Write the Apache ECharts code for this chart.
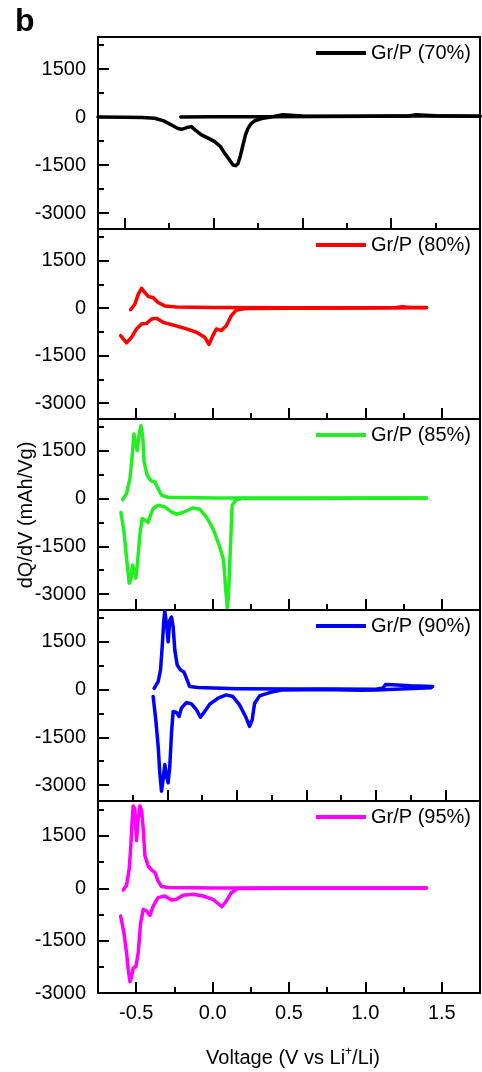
<!DOCTYPE html>
<html>
<head>
<meta charset="utf-8">
<script src="https://cdn.jsdelivr.net/npm/echarts@6/dist/echarts.min.js"></script>
<style>
html,body{margin:0;padding:0;background:#fff}
#chart{width:482px;height:1072px}
</style>
</head>
<body>
<div id="chart"></div>
<script>
//各面板名称和颜色
var names = ['Gr/P (70%)', 'Gr/P (80%)', 'Gr/P (85%)', 'Gr/P (90%)', 'Gr/P (95%)'];
var colors = ['#000000', '#ff0000', '#22ee22', '#0000ff', '#ff00ff'];

//刻度
var yMajor = [-3000, -1500, 0, 1500];
var yMinor = [-2250, -750, 750, 2250];
var xMajor = [-0.5, 0, 0.5, 1.0, 1.5];
var xMinor = [-0.75, -0.25, 0.25, 0.75, 1.25];

//70%
var gp70Lower = [[-0.65,0],[-0.5,-5],[-0.4,-15],[-0.33,-40],[-0.28,-120],[-0.236,-250],[-0.2,-360],[-0.18,-385],
	[-0.15,-330],[-0.124,-300],[-0.1,-420],[-0.068,-560],[-0.03,-660],[0.007,-770],[0.04,-930],[0.063,-1135],
	[0.09,-1340],[0.11,-1500],[0.125,-1520],[0.138,-1450],[0.152,-1200],[0.166,-875],[0.18,-560],[0.194,-355],
	[0.21,-220],[0.23,-125],[0.27,-50],[0.306,-20],[0.39,70],[0.5,30],[0.8,25],[1.0,30],[1.2,35],[1.5,25]];
var gp70Upper = [[-0.184,0],[0,5],[0.3,10],[0.6,15],[0.9,20],[1.1,30],[1.14,70],[1.25,40],[1.5,20]];

//80%
var gp80Upper = [[-0.537,-50],[-0.509,125],[-0.487,437],[-0.465,625],[-0.455,600],[-0.443,490],[-0.42,365],
	[-0.39,335],[-0.357,178],[-0.313,72],[-0.237,40],[0,20],[0.5,10],[1.0,15],[1.2,20],[1.24,45],[1.3,25],[1.4,20]];
var gp80Lower = [[-0.602,-865],[-0.563,-1095],[-0.53,-917],[-0.498,-656],[-0.465,-500],[-0.432,-480],[-0.4,-344],
	[-0.367,-322],[-0.324,-448],[-0.259,-530],[-0.171,-656],[-0.106,-760],[-0.052,-917],[-0.024,-1146],[0.002,-865],
	[0.024,-656],[0.057,-708],[0.09,-552],[0.122,-240],[0.155,-62],[0.22,-10],[0.5,0],[1.0,5],[1.4,10]];

//85%
var gp85Upper = [[-0.589,-31],[-0.563,156],[-0.541,625],[-0.524,1460],[-0.515,2030],[-0.502,1980],[-0.494,1510],
	[-0.48,2030],[-0.469,2290],[-0.458,1980],[-0.448,1146],[-0.428,730],[-0.406,573],[-0.378,520],[-0.357,312],
	[-0.334,104],[-0.291,42],[0,20],[0.5,15],[1.0,20],[1.4,20]];
var gp85Lower = [[-0.6,-437],[-0.58,-1040],[-0.563,-1875],[-0.546,-2656],[-0.535,-2550],[-0.524,-2083],[-0.513,-2290],
	[-0.502,-2500],[-0.491,-1980],[-0.476,-1146],[-0.461,-625],[-0.443,-677],[-0.422,-750],[-0.406,-520],[-0.389,-312],
	[-0.357,-208],[-0.313,-260],[-0.27,-416],[-0.237,-490],[-0.194,-437],[-0.128,-292],[-0.085,-333],[-0.041,-573],
	[0.002,-937],[0.046,-1510],[0.072,-1930],[0.085,-2810],[0.096,-3420],[0.104,-3050],[0.111,-2190],[0.122,-937],
	[0.128,-208],[0.15,-52],[0.19,0],[0.6,5],[1.0,10],[1.4,15]];

//90%
var gp90Upper = [[-0.596,40],[-0.567,250],[-0.55,615],[-0.538,1344],[-0.526,2180],[-0.519,2470],[-0.507,2070],
	[-0.495,1500],[-0.483,2180],[-0.471,2280],[-0.459,1970],[-0.447,1240],[-0.43,770],[-0.406,615],[-0.383,562],
	[-0.363,355],[-0.34,94],[-0.28,62],[0,30],[0.4,20],[0.7,15],[1.0,10],[1.05,40],[1.07,160],[1.12,150],
	[1.25,120],[1.41,100]];
var gp90Lower = [[-0.603,-219],[-0.584,-948],[-0.567,-1780],[-0.555,-2615],[-0.543,-3190],[-0.531,-2820],[-0.519,-2350],
	[-0.507,-2720],[-0.495,-2930],[-0.483,-2400],[-0.471,-1365],[-0.459,-687],[-0.435,-718],[-0.416,-844],[-0.4,-583],
	[-0.363,-406],[-0.327,-448],[-0.291,-635],[-0.263,-865],[-0.232,-687],[-0.196,-458],[-0.136,-271],[-0.076,-167],
	[-0.029,-219],[0.019,-479],[0.062,-844],[0.091,-1156],[0.11,-948],[0.127,-437],[0.163,-198],[0.235,-94],
	[0.33,-10],[0.6,0],[0.9,-20],[1.0,-10],[1.4,60]];

//95%
var gp95Upper = [[-0.585,-49],[-0.563,87],[-0.546,548],[-0.535,1220],[-0.526,1990],[-0.52,2357],[-0.509,2280],
	[-0.498,1365],[-0.487,1990],[-0.476,2357],[-0.465,2230],[-0.454,1700],[-0.443,932],[-0.422,643],[-0.4,528],
	[-0.378,452],[-0.357,211],[-0.334,49],[-0.291,20],[0,10],[0.5,5],[1.0,10],[1.4,10]];
var gp95Lower = [[-0.602,-798],[-0.58,-1280],[-0.563,-1855],[-0.552,-2337],[-0.541,-2674],[-0.53,-2530],[-0.52,-2288],
	[-0.502,-2240],[-0.487,-1855],[-0.471,-990],[-0.454,-605],[-0.432,-654],[-0.41,-779],[-0.389,-510],[-0.357,-269],
	[-0.313,-221],[-0.27,-337],[-0.237,-317],[-0.194,-202],[-0.128,-173],[-0.063,-221],[0.002,-317],[0.035,-433],
	[0.061,-529],[0.09,-365],[0.122,-125],[0.165,-10],[0.5,0],[1.0,0],[1.4,5]];

var curves = [[gp70Lower, gp70Upper], [gp80Upper, gp80Lower], [gp85Upper, gp85Lower], [gp90Upper, gp90Lower], [gp95Upper, gp95Lower]];

//各面板位置和坐标范围
var panelTop = [37, 229, 419, 610, 801];
var panelHeight = [192, 190, 191, 191, 192];
var xRange = [[-0.65, 1.5], [-0.75, 1.75], [-0.75, 1.75], [-1.0, 1.75], [-0.75, 1.75]];
var yRange = [[-3500, 2500], [-3500, 2500], [-3500, 2500], [-3500, 2500], [-3000, 2500]];

var font = 'Liberation Sans, Arial, sans-serif';
var myChart = echarts.init(document.getElementById('chart'));

var grids = [], xAxes = [], yAxes = [], series = [], legends = [];
for (var i = 0; i < 5; i++) {
	grids.push({left: 98, width: 382, top: panelTop[i], height: panelHeight[i],
		show: true, borderColor: '#000', borderWidth: 2});
	var last = (i === 4);
	//主刻度
	xAxes.push({type: 'value', gridIndex: i, position: 'bottom', z: 10, min: xRange[i][0], max: xRange[i][1],
		axisLine: {show: false, onZero: false}, splitLine: {show: false},
		axisTick: {show: true, inside: true, length: 11, customValues: xMajor, lineStyle: {color: '#000', width: 2}},
		axisLabel: {show: last, customValues: xMajor, margin: 10, fontSize: 20, fontFamily: font, color: '#000',
			formatter: function (v) { return v.toFixed(1); }}});
	//次刻度
	xAxes.push({type: 'value', gridIndex: i, position: 'bottom', z: 10, min: xRange[i][0], max: xRange[i][1],
		axisLine: {show: false, onZero: false}, splitLine: {show: false}, axisLabel: {show: false},
		axisTick: {show: true, inside: true, length: 6, customValues: xMinor, lineStyle: {color: '#000', width: 2}}});
	yAxes.push({type: 'value', gridIndex: i, position: 'left', z: 10, min: yRange[i][0], max: yRange[i][1],
		axisLine: {show: false, onZero: false}, splitLine: {show: false},
		axisTick: {show: true, inside: true, length: 11, customValues: yMajor, lineStyle: {color: '#000', width: 2}},
		axisLabel: {customValues: yMajor, margin: 12, fontSize: 20, fontFamily: font, color: '#000',
			formatter: function (v) { return String(v); }}});
	yAxes.push({type: 'value', gridIndex: i, position: 'left', z: 10, min: yRange[i][0], max: yRange[i][1],
		axisLine: {show: false, onZero: false}, splitLine: {show: false}, axisLabel: {show: false},
		axisTick: {show: true, inside: true, length: 6, customValues: yMinor, lineStyle: {color: '#000', width: 2}}});

	for (var k = 0; k < 2; k++) {
		series.push({type: 'line', name: names[i], xAxisIndex: i * 2, yAxisIndex: i * 2,
			data: curves[i][k], showSymbol: false, symbol: 'none',
			lineStyle: {color: colors[i], width: 3.5, cap: 'round', join: 'round'},
			itemStyle: {color: colors[i]}});
	}
	legends.push({data: [names[i]], left: 316, top: panelTop[i] + 6, padding: 0,
		icon: 'rect', itemWidth: 50, itemHeight: 4, selectedMode: false,
		textStyle: {fontSize: 20, fontFamily: font, color: '#000'}});
}

var option = {
	animation: false,
	grid: grids,
	xAxis: xAxes,
	yAxis: yAxes,
	legend: legends,
	series: series,
	graphic: [
		{type: 'text', left: 15, top: 6, style: {text: 'b', fontSize: 32, fontWeight: 'bold', fontFamily: font, fill: '#000'}},
		{type: 'text', x: 26, y: 515, rotation: Math.PI / 2,
			style: {text: 'dQ/dV (mAh/Vg)', fontSize: 20, fontFamily: font, fill: '#000', align: 'center', verticalAlign: 'middle'}},
		{type: 'text', x: 293, y: 1058,
			style: {text: '{n|Voltage (V vs Li}{s|+}{n|/Li)}', align: 'center', verticalAlign: 'middle', fill: '#000',
				rich: {
					n: {fontSize: 20, fontFamily: font, fill: '#000'},
					s: {fontSize: 12, fontFamily: font, fill: '#000', verticalAlign: 'top', padding: [0, 0, 12, 0]}
				}}}
	]
};
myChart.setOption(option);
</script>
</body>
</html>
